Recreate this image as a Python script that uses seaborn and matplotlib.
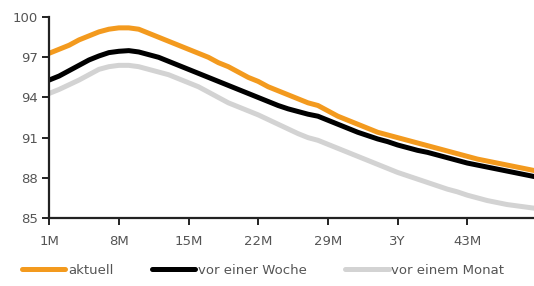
import numpy as np
import pandas as pd
import matplotlib
matplotlib.use("Agg")
import matplotlib.pyplot as plt
import seaborn as sns
from matplotlib.lines import Line2D

months = list(range(1, 51))
aktuell = [97.3, 97.6, 97.9, 98.3, 98.6, 98.9, 99.1, 99.2, 99.2, 99.1,
           98.8, 98.5, 98.2, 97.9, 97.6, 97.3, 97.0, 96.6, 96.3, 95.9,
           95.5, 95.2, 94.8, 94.5, 94.2, 93.9, 93.6, 93.4, 93.0, 92.6,
           92.3, 92.0, 91.7, 91.4, 91.2, 91.0, 90.8, 90.6, 90.4, 90.2,
           90.0, 89.8, 89.6, 89.4, 89.25, 89.1, 88.95, 88.8, 88.65, 88.5]
vor_woche = [95.3, 95.6, 96.0, 96.4, 96.8, 97.1, 97.35, 97.45, 97.5, 97.4,
             97.2, 97.0, 96.7, 96.4, 96.1, 95.8, 95.5, 95.2, 94.9, 94.6,
             94.3, 94.0, 93.7, 93.4, 93.15, 92.95, 92.75, 92.6, 92.3, 92.0,
             91.7, 91.4, 91.15, 90.9, 90.7, 90.45, 90.25, 90.05, 89.9, 89.7,
             89.5, 89.3, 89.1, 88.95, 88.8, 88.65, 88.5, 88.35, 88.2, 88.05]
vor_monat = [94.3, 94.6, 94.95, 95.3, 95.7, 96.1, 96.3, 96.4, 96.4, 96.3,
             96.1, 95.9, 95.7, 95.4, 95.1, 94.8, 94.4, 94.0, 93.6, 93.3,
             93.0, 92.7, 92.35, 92.0, 91.65, 91.3, 91.0, 90.8, 90.5, 90.2,
             89.9, 89.6, 89.3, 89.0, 88.7, 88.4, 88.15, 87.9, 87.65, 87.4,
             87.15, 86.95, 86.7, 86.5, 86.3, 86.15, 86.0, 85.9, 85.8, 85.7]
series_names = ["aktuell", "vor einer Woche", "vor einem Monat"]
colors = ["#F39A1E", "#000000", "#D3D3D3"]
tick_pos = [1, 8, 15, 22, 29, 36, 43]
tick_labels = ["1M", "8M", "15M", "22M", "29M", "3Y", "43M"]
y_ticks = [85, 88, 91, 94, 97, 100]

df = pd.DataFrame({
    "Monat": months * 3,
    "Wert": aktuell + vor_woche + vor_monat,
    "Serie": [series_names[0]] * 50 + [series_names[1]] * 50 + [series_names[2]] * 50,
})

sns.set_style("white")
plt.rcParams["font.family"] = ["DejaVu Sans"]

fig = plt.figure(figsize=(5.34, 2.86), dpi=100)
ax = fig.add_axes([0.092, 0.238, 0.908, 0.702])

sns.lineplot(data=df, x="Monat", y="Wert", hue="Serie", hue_order=series_names[::-1],
             palette=dict(zip(series_names, colors)), linewidth=3.6, ax=ax, legend=False)

ax.set_xlim(1, 49.7)
ax.set_ylim(85, 100)
ax.set_xticks(tick_pos)
ax.set_xticklabels(tick_labels)
ax.set_yticks(y_ticks)
ax.set_xlabel("")
ax.set_ylabel("")
for s in ["top", "right"]:
    ax.spines[s].set_visible(False)
for s in ["left", "bottom"]:
    ax.spines[s].set_color("#222222")
    ax.spines[s].set_linewidth(1.6)
ax.tick_params(axis="both", direction="out", length=5, width=1.4, color="#222222",
               labelsize=9.5, labelcolor="#555555", bottom=True, left=True)
ax.tick_params(axis="x", pad=7)
ax.tick_params(axis="y", pad=3)

handles = [Line2D([], [], color=c, linewidth=3.6) for c in colors]
fig.legend(handles, series_names, loc="center left", bbox_to_anchor=(0.041, 1 - 270 / 286),
           ncol=3, frameon=False, fontsize=9.5, handlelength=3.3, handletextpad=0.2,
           columnspacing=2.9, borderpad=0, borderaxespad=0, labelcolor="#555555")

fig.savefig("out.png", dpi=100)
